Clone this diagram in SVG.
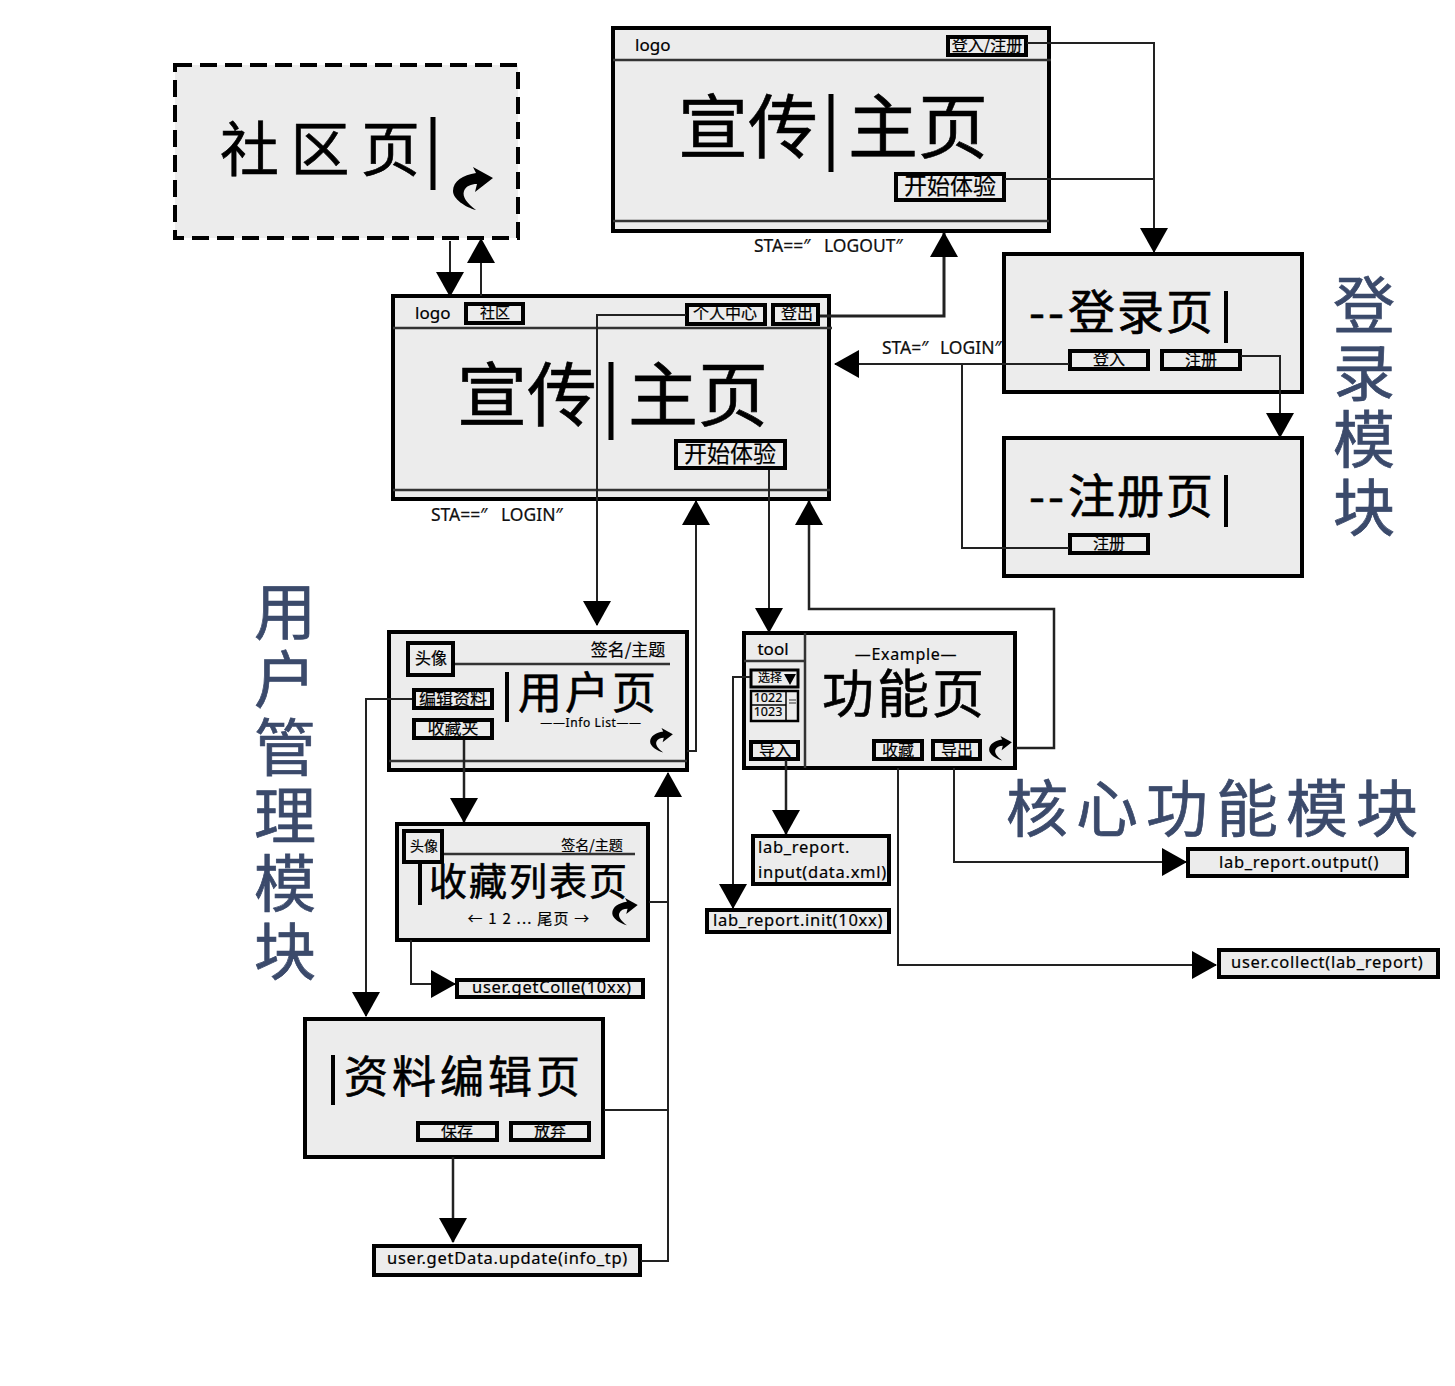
<svg xmlns="http://www.w3.org/2000/svg" width="1455" height="1386" viewBox="0 0 1455 1386">
<style>
text{font-family:"Noto Sans","Noto Sans CJK SC",sans-serif;fill:#000;stroke:#000;stroke-width:.2}
.cjk{font-family:"Noto Sans CJK SC",sans-serif}
.b{stroke-width:.6}
.box{fill:#ececec;stroke:#000;stroke-width:4}
.btn{fill:#ececec;stroke:#000;stroke-width:4}
.bar{stroke:#000;stroke-width:4;fill:none}
.rule{stroke:#333;stroke-width:2.5;fill:none}
.con{fill:none;stroke:#222;stroke-width:2}
text.mod{font-family:"Noto Sans CJK SC",sans-serif;fill:#3b4a6b;stroke:#3b4a6b;stroke-width:.7;font-size:62px;text-anchor:middle}
.sm{font-size:16px;text-anchor:middle}
.api{font-size:16.5px;letter-spacing:.72px}
.mid{text-anchor:middle}
.sta{font-size:17.500px;word-spacing:9px;fill:#111}
</style>
<defs>
<marker id="ah" markerUnits="userSpaceOnUse" markerWidth="30" markerHeight="28" refX="24" refY="14" orient="auto"><path d="M0 0L25 14L0 28Z" fill="#000"/></marker>
<symbol id="back" viewBox="0 0 40 44" overflow="visible"><path d="M40 11L20 0L23 6C10 8 0 14 0 24C0 32 12 40 23 43C14 36 9 30 11 24C13 19 18 17 24 17L22 25Z" fill="#000"/></symbol>
</defs>

<g id="community">
<rect x="175" y="65" width="343" height="173" fill="#ececec" stroke="#000" stroke-width="4" stroke-dasharray="17 8"/>
<text class="cjk b" x="220" y="171" font-size="59" letter-spacing="11.500">社区页</text>
<line x1="433" y1="117" x2="433" y2="190" stroke="#000" stroke-width="5"/>
<use href="#back" x="453" y="167" width="40" height="44"/>
</g>

<g id="home-logout">
<rect class="box" x="613" y="28" width="436" height="203"/>
<line class="rule" x1="613" y1="60" x2="1051" y2="60"/>
<line class="rule" x1="613" y1="221" x2="1049" y2="221"/>
<text x="635" y="51" font-size="17">logo</text>
<rect class="btn" x="948" y="37" width="78" height="18"/>
<text class="cjk sm" x="987" y="51">登入/注册</text>
<text class="cjk b" x="678" y="153" font-size="70">宣传</text>
<line x1="831" y1="94" x2="831" y2="172" stroke="#000" stroke-width="5"/>
<text class="cjk b" x="848" y="153" font-size="70">主页</text>
<rect class="btn" x="896" y="174" width="108" height="26"/>
<text class="cjk mid" x="950" y="194" font-size="23">开始体验</text>
</g>

<g id="home-login">
<rect class="box" x="393" y="296" width="436" height="203"/>
<line class="rule" x1="393" y1="328" x2="832" y2="328"/>
<line class="rule" x1="393" y1="490" x2="830" y2="490"/>
<text x="415" y="319" font-size="17">logo</text>
<rect class="btn" x="466" y="304" width="57" height="19"/>
<text class="cjk mid" x="495" y="318" font-size="15">社区</text>
<rect class="btn" x="687" y="305" width="78" height="19"/>
<text class="cjk mid" x="725" y="319" font-size="16">个人中心</text>
<rect class="btn" x="773" y="305" width="45" height="19"/>
<text class="cjk mid" x="797" y="319" font-size="16">登出</text>
<text class="cjk b" x="457" y="421" font-size="70">宣传</text>
<line x1="611" y1="362" x2="611" y2="440" stroke="#000" stroke-width="5"/>
<text class="cjk b" x="628" y="421" font-size="70">主页</text>
<rect class="btn" x="676" y="441" width="109" height="27"/>
<text class="cjk mid" x="730" y="462" font-size="23">开始体验</text>
</g>

<g id="login">
<rect class="box" x="1004" y="254" width="298" height="138"/>
<text class="cjk b" x="1029" y="329" font-size="46" letter-spacing="3">--</text>
<text class="cjk b" x="1068" y="329" font-size="47" letter-spacing="2">登录页</text>
<line class="bar" x1="1226" y1="291" x2="1226" y2="343"/>
<rect class="btn" x="1070" y="351" width="78" height="18"/>
<text class="cjk sm" x="1109" y="365">登入</text>
<rect class="btn" x="1162" y="351" width="78" height="18"/>
<text class="cjk sm" x="1201" y="366">注册</text>
</g>

<g id="register">
<rect class="box" x="1004" y="438" width="298" height="138"/>
<text class="cjk b" x="1029" y="513" font-size="46" letter-spacing="3">--</text>
<text class="cjk b" x="1068" y="513" font-size="47" letter-spacing="2">注册页</text>
<line class="bar" x1="1226" y1="475" x2="1226" y2="527"/>
<rect class="btn" x="1070" y="535" width="78" height="18"/>
<text class="cjk sm" x="1109" y="549">注册</text>
</g>

<g id="user">
<rect class="box" x="389" y="632" width="298" height="138"/>
<line class="rule" x1="389" y1="761" x2="687" y2="761"/>
<line class="rule" x1="455" y1="664" x2="670" y2="664"/>
<rect class="btn" x="408" y="643" width="45" height="32"/>
<text class="cjk sm" x="431" y="664">头像</text>
<text class="cjk mid" x="628" y="656" font-size="17">签名/主题</text>
<line class="bar" x1="507" y1="672" x2="507" y2="722"/>
<text class="cjk b" x="518" y="709" font-size="44" letter-spacing="3">用户页</text>
<text class="mid" x="591" y="727" font-size="12" letter-spacing=".6">——Info List——</text>
<use href="#back" x="648" y="728" width="27" height="25"/>
<rect class="btn" x="414" y="690" width="78" height="18"/>
<text class="cjk mid" x="453" y="705" font-size="17">编辑资料</text>
<rect class="btn" x="414" y="720" width="78" height="18"/>
<text class="cjk mid" x="453" y="734" font-size="17">收藏夹</text>
</g>

<g id="favorites">
<rect class="box" x="397" y="824" width="251" height="116"/>
<line class="rule" x1="443" y1="854" x2="635" y2="854"/>
<rect class="btn" x="404" y="831" width="38" height="31"/>
<text class="cjk mid" x="424" y="851" font-size="14">头像</text>
<text class="cjk mid" x="592" y="850" font-size="14">签名/主题</text>
<line class="bar" x1="420" y1="862" x2="420" y2="905"/>
<text class="cjk b" x="429" y="895" font-size="38" letter-spacing="2">收藏列表页</text>
<text class="cjk mid" x="529" y="924" font-size="15" letter-spacing="1.200">← 1 2 ... 尾页 →</text>
<use href="#back" x="612" y="898" width="26" height="28"/>
</g>

<g id="feature">
<rect class="box" x="744" y="633" width="271" height="135"/>
<line class="rule" x1="805" y1="633" x2="805" y2="768"/>
<line class="rule" x1="744" y1="661" x2="805" y2="661"/>
<text class="mid" x="773" y="655" font-size="17">tool</text>
<text class="mid" x="906" y="660" font-size="16" letter-spacing=".7">—Example—</text>
<text class="cjk b" x="822" y="713" font-size="52" letter-spacing="3">功能页</text>
<rect x="751" y="670" width="47" height="17" fill="#ececec" stroke="#000" stroke-width="3"/>
<text class="cjk mid" x="770" y="682" font-size="12">选择</text>
<path d="M784 674H796L790 685Z" fill="#000"/>
<rect x="751" y="691" width="47" height="30" fill="#ececec" stroke="#000" stroke-width="2.500"/>
<line x1="751" y1="705" x2="786" y2="705" stroke="#000" stroke-width="1.500"/>
<line x1="786" y1="691" x2="786" y2="721" stroke="#000" stroke-width="1.500"/>
<path d="M789 700H796M789 703H796" stroke="#333" stroke-width="1"/>
<text class="mid" x="768" y="702" font-size="12.500">1022</text>
<text class="mid" x="768" y="716" font-size="12.500">1023</text>
<rect class="btn" x="751" y="742" width="47" height="17"/>
<text class="cjk sm" x="775" y="756">导入</text>
<rect class="btn" x="874" y="741" width="48" height="18"/>
<text class="cjk sm" x="898" y="756">收藏</text>
<rect class="btn" x="933" y="741" width="47" height="18"/>
<text class="cjk sm" x="957" y="756">导出</text>
<use href="#back" x="989" y="736" width="23" height="25"/>
</g>

<g id="edit">
<rect class="box" x="305" y="1019" width="298" height="138"/>
<line class="bar" x1="333" y1="1055" x2="333" y2="1105"/>
<text class="cjk b" x="344" y="1093" font-size="44" letter-spacing="4">资料编辑页</text>
<rect class="btn" x="418" y="1123" width="79" height="17"/>
<text class="cjk sm" x="457" y="1137">保存</text>
<rect class="btn" x="511" y="1123" width="78" height="17"/>
<text class="cjk sm" x="550" y="1137">放弃</text>
</g>

<g id="api-input"><rect class="btn" x="753" y="836" width="136" height="48"/>
<text class="api" x="758" y="853">lab_report.</text><text class="api" x="758" y="878">input(data.xml)</text></g>
<g id="api-init"><rect class="btn" x="707" y="910" width="182" height="22"/>
<text class="api" x="713" y="926">lab_report.init(10xx)</text></g>
<g id="api-colle"><rect class="btn" x="457" y="980" width="186" height="17"/>
<text class="api" x="472" y="993">user.getColle(10xx)</text></g>
<g id="api-update"><rect class="btn" x="374" y="1246" width="266" height="29"/>
<text class="api" x="387" y="1264">user.getData.update(info_tp)</text></g>
<g id="api-output"><rect class="btn" x="1188" y="849" width="219" height="27"/>
<text class="api" x="1219" y="868">lab_report.output()</text></g>
<g id="api-collect"><rect class="btn" x="1219" y="950" width="219" height="27"/>
<text class="api" x="1231" y="968">user.collect(lab_report)</text></g>

<g id="labels">
<text class="sta" x="754" y="252">STA==″ LOGOUT″</text>
<text class="sta" x="882" y="354" style="word-spacing:7px">STA=″ LOGIN″</text>
<text class="sta" x="431" y="521">STA==″ LOGIN″</text>
<text class="mod" x="1364" y="329">登</text><text class="mod" x="1364" y="396">录</text><text class="mod" x="1364" y="463">模</text><text class="mod" x="1364" y="531">块</text>
<text class="mod" x="285" y="635">用</text><text class="mod" x="285" y="703">户</text><text class="mod" x="285" y="771">管</text><text class="mod" x="285" y="839">理</text><text class="mod" x="285" y="907">模</text><text class="mod" x="285" y="975">块</text>
<text class="mod" style="text-anchor:start" x="1006" y="832" letter-spacing="8">核心功能模块</text>
</g>

<g id="connectors">
<path class="con" d="M1027 43H1154V252" marker-end="url(#ah)"/>
<path class="con" d="M1005 179H1154"/>
<path class="con" d="M820 316H944V233" style="stroke-width:3" marker-end="url(#ah)"/>
<path class="con" d="M686 315H597V625" marker-end="url(#ah)"/>
<path class="con" d="M769 470V632" marker-end="url(#ah)"/>
<path class="con" d="M1016 748H1054V609H809V501" style="stroke-width:2.500" marker-end="url(#ah)"/>
<path class="con" d="M687 751H696V501" marker-end="url(#ah)"/>
<path class="con" d="M649 902H668"/>
<path class="con" d="M641 1261H668V773" marker-end="url(#ah)"/>
<path class="con" d="M604 1110H668"/>
<path class="con" d="M464 740V822" style="stroke-width:2.500" marker-end="url(#ah)"/>
<path class="con" d="M412 699H366V1016" marker-end="url(#ah)"/>
<path class="con" d="M411 940V984H455" marker-end="url(#ah)"/>
<path class="con" d="M453 1157V1242" style="stroke-width:2.500" marker-end="url(#ah)"/>
<path class="con" d="M750 677H733V908" marker-end="url(#ah)"/>
<path class="con" d="M786 760V834" style="stroke-width:2.500" marker-end="url(#ah)"/>
<path class="con" d="M954 768V862H1186" marker-end="url(#ah)"/>
<path class="con" d="M898 768V965H1216" marker-end="url(#ah)"/>
<path class="con" d="M1069 364H835" marker-end="url(#ah)"/>
<path class="con" d="M962 364V548H1069"/>
<path class="con" d="M1241 356H1280V437" marker-end="url(#ah)"/>
<path class="con" d="M450 241V296" marker-end="url(#ah)"/>
<path class="con" d="M481 296V239" marker-end="url(#ah)"/>
</g>
</svg>
